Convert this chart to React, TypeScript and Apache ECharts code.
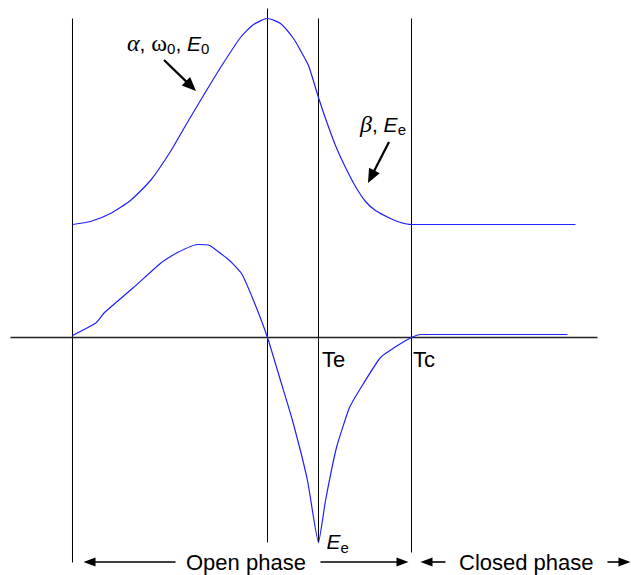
import React, { useEffect, useRef } from "react";
import * as echarts from "echarts";

// Glottal flow (offset upward) over one period, time in ms
const FLOW_T = [0, 0.265, 0.56, 0.855, 1.15, 1.445, 1.711, 1.976, 2.212, 2.478, 2.67, 2.876,
  3.068, 3.26, 3.363, 3.481, 3.628, 3.732, 3.879, 4.027, 4.174, 4.322, 4.469, 4.69, 4.838, 5.0, 7.419];
const FLOW_Y = [1.13, 1.16, 1.24, 1.37, 1.57, 1.86, 2.17, 2.47, 2.73, 3.0, 3.13, 3.19,
  3.14, 2.99, 2.87, 2.72, 2.4, 2.19, 1.92, 1.7, 1.51, 1.36, 1.27, 1.19, 1.15, 1.13, 1.13];

// Flow derivative
const DFLOW_T = [0, 0.354, 0.472, 0.9, 1.313, 1.549, 1.844, 2.021, 2.316, 2.493, 2.67, 2.876,
  3.068, 3.245, 3.466, 3.628, 3.732, 3.894, 4.086, 4.292, 4.543, 4.794, 5.0, 5.133, 7.301];
const DFLOW_Y = [0.02, 0.15, 0.25, 0.5, 0.75, 0.85, 0.93, 0.92, 0.77, 0.64, 0.37, 0,
  -0.43, -0.83, -1.43, -2.05, -1.63, -1.1, -0.7, -0.46, -0.2, -0.08, 0, 0.03, 0.03];

// Event markers: opening, flow peak, Te, Tc
const EVENT_T = [0, 2.876, 3.628, 5.0];
const EVENT_TOP = [3.19, 3.29, 3.19, 3.19];
const EVENT_BOTTOM = [-2.25, -2.05, -2.05, -2.15];

// Time axis extent
const AXIS_T = [-0.915, 7.743];

const X_MIN = -1.0693;
const X_MAX = 8.2377;
const Y_MIN = -2.375;
const Y_MAX = 3.375;

const BLUE = "#1f1fff";
const SANS = "Liberation Sans, Arial, sans-serif";
const SERIF = "Liberation Serif, Times New Roman, serif";

const pairs = (t: number[], y: number[]) => t.map((v, i) => [v, y[i]]);

function arrow(x1: number, y1: number, x2: number, y2: number, len: number, half: number, w: number) {
  const dx = x2 - x1;
  const dy = y2 - y1;
  const L = Math.hypot(dx, dy);
  const ux = dx / L;
  const uy = dy / L;
  const bx = x2 - ux * len;
  const by = y2 - uy * len;
  return {
    type: "group",
    silent: true,
    children: [
      {
        type: "line",
        shape: { x1, y1, x2: bx + ux * 2, y2: by + uy * 2 },
        style: { stroke: "#000", lineWidth: w },
      },
      {
        type: "polygon",
        shape: {
          points: [
            [x2, y2],
            [bx - uy * half, by + ux * half],
            [bx + uy * half, by - ux * half],
          ],
        },
        style: { fill: "#000" },
      },
    ],
  };
}

export default function App() {
  const ref = useRef<HTMLDivElement>(null);

  useEffect(() => {
    const chart = echarts.init(ref.current!, null, { renderer: "svg" });

    const eventLines = EVENT_T.map((t, i) => ({
      type: "line",
      data: [
        [t, EVENT_TOP[i]],
        [t, EVENT_BOTTOM[i]],
      ],
      symbol: "none",
      silent: true,
      lineStyle: { color: "#000", width: 1 },
      z: 1,
    }));

    chart.setOption({
      animation: false,
      backgroundColor: "#fff",
      grid: { left: 0, right: 0, top: 0, bottom: 0 },
      xAxis: { type: "value", min: X_MIN, max: X_MAX, show: false },
      yAxis: { type: "value", min: Y_MIN, max: Y_MAX, show: false },
      series: [
        ...eventLines,
        {
          type: "line",
          data: [
            [AXIS_T[0], 0],
            [AXIS_T[1], 0],
          ],
          symbol: "none",
          silent: true,
          lineStyle: { color: "#222", width: 1.3 },
          z: 1,
        },
        {
          type: "line",
          data: pairs(FLOW_T, FLOW_Y),
          symbol: "none",
          smooth: 0.2,
          silent: true,
          lineStyle: { color: BLUE, width: 1.2 },
          z: 3,
        },
        {
          type: "line",
          data: pairs(DFLOW_T, DFLOW_Y),
          symbol: "none",
          smooth: 0.15,
          silent: true,
          lineStyle: { color: BLUE, width: 1.2 },
          z: 3,
        },
      ],
    });

    const px = (t: number, y: number) => chart.convertToPixel({ gridIndex: 0 }, [t, y]) as number[];
    const [xOpen] = px(EVENT_T[0], 0);
    const [xTe, y0] = px(EVENT_T[2], 0);
    const [xTc] = px(EVENT_T[3], 0);
    const [, yEe] = px(EVENT_T[2], DFLOW_Y[15]);

    const phaseY = 562;
    const label = (text: string, x: number, y: number) => ({
      type: "text",
      silent: true,
      style: { text, x, y, fill: "#000", font: `22px ${SANS}`, align: "left", verticalAlign: "middle" },
    });

    const rich = {
      i: { fontFamily: SERIF, fontStyle: "italic", fontSize: 24, lineHeight: 26, fill: "#000" },
      g: { fontFamily: SERIF, fontSize: 24, lineHeight: 26, fill: "#000" },
      n: { fontFamily: SANS, fontSize: 21, lineHeight: 26, fill: "#000" },
      e: { fontFamily: SANS, fontStyle: "italic", fontSize: 21, lineHeight: 26, fill: "#000" },
      s: { fontFamily: SANS, fontSize: 15, lineHeight: 15, verticalAlign: "bottom", fill: "#000" },
    };
    const richLabel = (text: string, x: number, y: number) => ({
      type: "text",
      silent: true,
      style: { text, x, y, rich, align: "left", verticalAlign: "middle" },
    });

    chart.setOption({
      graphic: [
        richLabel("{i|α}{n|, }{g|ω}{s|0}{n|, }{e|E}{s|0}", 127, 43),
        arrow(164, 60, 196, 91, 14, 6, 2.2),
        richLabel("{i|β}{n|, }{e|E}{s|e}", 360, 124),
        arrow(389, 142, 368, 183, 14, 6, 2.2),
        label("Te", xTe + 3.5, y0 + 22),
        label("Tc", xTc + 1.5, y0 + 22),
        richLabel("{e|E}{s|e}", xTe + 8, yEe - 1),
        arrow(xOpen + 103, phaseY, xOpen + 11, phaseY, 12, 4.5, 1.6),
        label("Open phase", 186, phaseY),
        arrow(xOpen + 248, phaseY, xTc - 3, phaseY, 12, 4.5, 1.6),
        arrow(xTc + 34, phaseY, xTc + 9, phaseY, 12, 4.5, 1.6),
        label("Closed phase", 459, phaseY),
        arrow(xTc + 196, phaseY, xTc + 219, phaseY, 12, 4.5, 1.6),
      ],
    });

    return () => chart.dispose();
  }, []);

  return (
    <div
      ref={ref}
      style={{ position: "fixed", left: 0, top: 0, width: 631, height: 575, background: "#fff" }}
    />
  );
}
